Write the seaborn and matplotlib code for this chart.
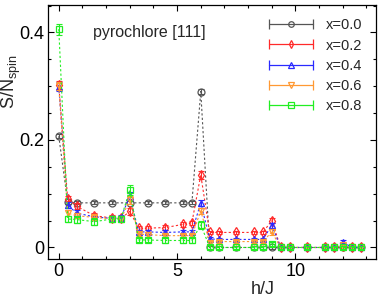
"""
pyrochlore [111] 结构因子 S/N_spin 随 h/J 变化
"""

import matplotlib
matplotlib.use("Agg")
import matplotlib.pyplot as plt
from matplotlib.legend_handler import HandlerBase
from matplotlib.lines import Line2D
from matplotlib.ticker import MultipleLocator, FormatStrFormatter
import seaborn as sns

# ── 数据 ──────────────────────────────────────────────────────
h = [0, 0.375, 0.75, 1.5, 2.25, 2.625, 3.0, 3.375, 3.75, 4.5, 5.25, 5.625,
     6.0, 6.375, 6.75, 7.5, 8.25, 8.625, 9.0, 9.375, 9.75, 10.5, 11.25,
     11.625, 12.0, 12.375, 12.75]
h_x00 = [0, 0.375, 0.75, 1.5, 2.25, 3.0, 3.75, 4.5, 5.25, 5.625,
         6.0, 6.375, 6.75, 7.5, 8.25, 8.625, 9.0, 9.375, 9.75, 10.5, 11.25,
         11.625, 12.0, 12.375, 12.75]

s_x00 = [0.207, 0.084, 0.083, 0.083, 0.083, 0.083, 0.083, 0.083, 0.083, 0.083,
         0.290, 0.0, 0.0, 0.0, 0.0, 0.0, 0.0, 0.0, 0.0, 0.0, 0.0,
         0.0, 0.0, 0.0, 0.0]
e_x00 = [0.004, 0.003, 0.003, 0.003, 0.003, 0.003, 0.003, 0.003, 0.003, 0.003,
         0.004, 0.002, 0.002, 0.002, 0.002, 0.002, 0.002, 0.002, 0.002, 0.002, 0.002,
         0.002, 0.002, 0.002, 0.002]

s_x02 = [0.302, 0.091, 0.077, 0.059, 0.055, 0.054, 0.067, 0.036, 0.036, 0.037, 0.043, 0.046,
         0.135, 0.028, 0.028, 0.028, 0.028, 0.028, 0.050, 0.0, 0.0, 0.0, 0.0,
         0.0, 0.002, 0.0, 0.0]
e_x02 = [0.008, 0.005, 0.005, 0.005, 0.005, 0.005, 0.007, 0.004, 0.004, 0.004, 0.004, 0.004,
         0.007, 0.003, 0.003, 0.003, 0.003, 0.003, 0.005, 0.002, 0.002, 0.002, 0.002,
         0.002, 0.002, 0.002, 0.002]

s_x04 = [0.299, 0.079, 0.064, 0.057, 0.054, 0.055, 0.096, 0.029, 0.029, 0.028, 0.029, 0.029,
         0.083, 0.016, 0.015, 0.015, 0.015, 0.015, 0.041, 0.0, 0.0, 0.0, 0.0,
         0.0, 0.011, 0.0, 0.0]
e_x04 = [0.008, 0.005, 0.005, 0.005, 0.005, 0.005, 0.007, 0.004, 0.004, 0.004, 0.004, 0.004,
         0.006, 0.003, 0.003, 0.003, 0.003, 0.003, 0.005, 0.002, 0.002, 0.002, 0.002,
         0.002, 0.003, 0.002, 0.002]

s_x06 = [0.300, 0.064, 0.059, 0.056, 0.053, 0.053, 0.088, 0.025, 0.024, 0.022, 0.022, 0.022,
         0.068, 0.009, 0.011, 0.011, 0.011, 0.011, 0.029, 0.0, 0.0, 0.0, 0.0,
         0.0, 0.004, 0.0, 0.0]
e_x06 = [0.008, 0.005, 0.005, 0.005, 0.005, 0.005, 0.007, 0.004, 0.004, 0.004, 0.004, 0.004,
         0.006, 0.003, 0.003, 0.003, 0.003, 0.003, 0.005, 0.002, 0.002, 0.002, 0.002,
         0.002, 0.003, 0.002, 0.002]

s_x08 = [0.406, 0.053, 0.052, 0.048, 0.053, 0.053, 0.107, 0.014, 0.014, 0.013, 0.013, 0.013,
         0.042, 0.001, 0.0, 0.0, 0.0, 0.0, 0.007, 0.0, 0.0, 0.0, 0.0,
         0.0, 0.0, 0.0, 0.0]
e_x08 = [0.010, 0.006, 0.006, 0.006, 0.006, 0.006, 0.009, 0.004, 0.004, 0.004, 0.004, 0.004,
         0.007, 0.003, 0.003, 0.003, 0.003, 0.003, 0.004, 0.002, 0.002, 0.002, 0.002,
         0.002, 0.002, 0.002, 0.002]

labels = ["x=0.0", "x=0.2", "x=0.4", "x=0.6", "x=0.8"]
colors = ["#555555", "#ff2a2a", "#2a2aff", "#ff9933", "#22ee22"]
markers = ["o", "d", "^", "v", "s"]

series = [
    (h_x00, s_x00, e_x00),
    (h, s_x02, e_x02),
    (h, s_x04, e_x04),
    (h, s_x06, e_x06),
    (h, s_x08, e_x08),
]

# ── 样式 ──────────────────────────────────────────────────────
sns.set_style("ticks")
plt.rcParams["font.family"] = ["Liberation Sans", "DejaVu Sans"]
plt.rcParams["mathtext.fontset"] = "custom"
plt.rcParams["mathtext.rm"] = "Liberation Sans"


class CapHandler(HandlerBase):
    """gnuplot 风格图例：两端带横杠的线 + 中间标记"""

    def create_artists(self, legend, orig_handle, xdescent, ydescent,
                       width, height, fontsize, trans):
        y = height / 2 - ydescent
        x0, x1 = -xdescent, width - xdescent
        c = orig_handle.get_color()
        line = Line2D([x0, x1], [y, y], color=c, lw=0.9)
        caps = Line2D([x0, x1], [y, y], ls="", marker="|", ms=7, mew=0.9, color=c)
        mk = Line2D([(x0 + x1) / 2], [y], ls="", marker=orig_handle.get_marker(),
                    ms=4, mfc="none", mec=c, mew=0.9)
        for a in (line, caps, mk):
            a.set_transform(trans)
        return [line, caps, mk]


# ── 绘图 ──────────────────────────────────────────────────────
fig = plt.figure(figsize=(3.82, 3.01), dpi=100)
ax = fig.add_axes([0.126, 0.1385, 0.858, 0.845])

handles = []
for (xs, ys, es), lab, c, m in zip(series, labels, colors, markers):
    sns.lineplot(x=xs, y=ys, ax=ax, color=c, marker=m, markersize=5,
                 markerfacecolor="none", markeredgecolor=c, markeredgewidth=0.9,
                 linestyle=(0, (2, 2)), linewidth=0.8, legend=False)
    ax.errorbar(xs, ys, yerr=es, fmt="none", ecolor=c, elinewidth=0.8,
                capsize=2.2, capthick=0.8)
    handles.append(Line2D([], [], color=c, marker=m))

ax.set_xlim(-0.45, 13.4)
ax.set_ylim(-0.022, 0.451)

ax.xaxis.set_major_locator(MultipleLocator(5))
ax.xaxis.set_minor_locator(MultipleLocator(1))
ax.yaxis.set_major_locator(MultipleLocator(0.2))
ax.yaxis.set_minor_locator(MultipleLocator(0.05))
ax.yaxis.set_major_formatter(FormatStrFormatter("%g"))

ax.tick_params(which="both", direction="in", top=True, right=True,
               colors="black", labelsize=13, width=0.8)
ax.tick_params(which="major", length=4.5, pad=3)
ax.tick_params(which="minor", length=2.5)
for sp in ax.spines.values():
    sp.set_color("black")
    sp.set_linewidth(0.9)

ax.set_xlabel("h/J", fontsize=13)
ax.xaxis.set_label_coords(0.655, -0.085)
ax.set_ylabel(r"S/N$_{\mathrm{spin}}$", fontsize=13)
ax.yaxis.set_label_coords(-0.078, 0.70)

ax.text(0.31, 0.89, "pyrochlore [111]", transform=ax.transAxes,
        fontsize=11.5, ha="center", va="center")

ax.legend(handles, labels, handler_map={Line2D: CapHandler()},
          loc="upper right", bbox_to_anchor=(0.975, 0.97), frameon=False,
          fontsize=10.5, handlelength=3.0, handletextpad=0.85,
          labelspacing=0.42, borderaxespad=0.0)

fig.savefig("out.png", dpi=100)
